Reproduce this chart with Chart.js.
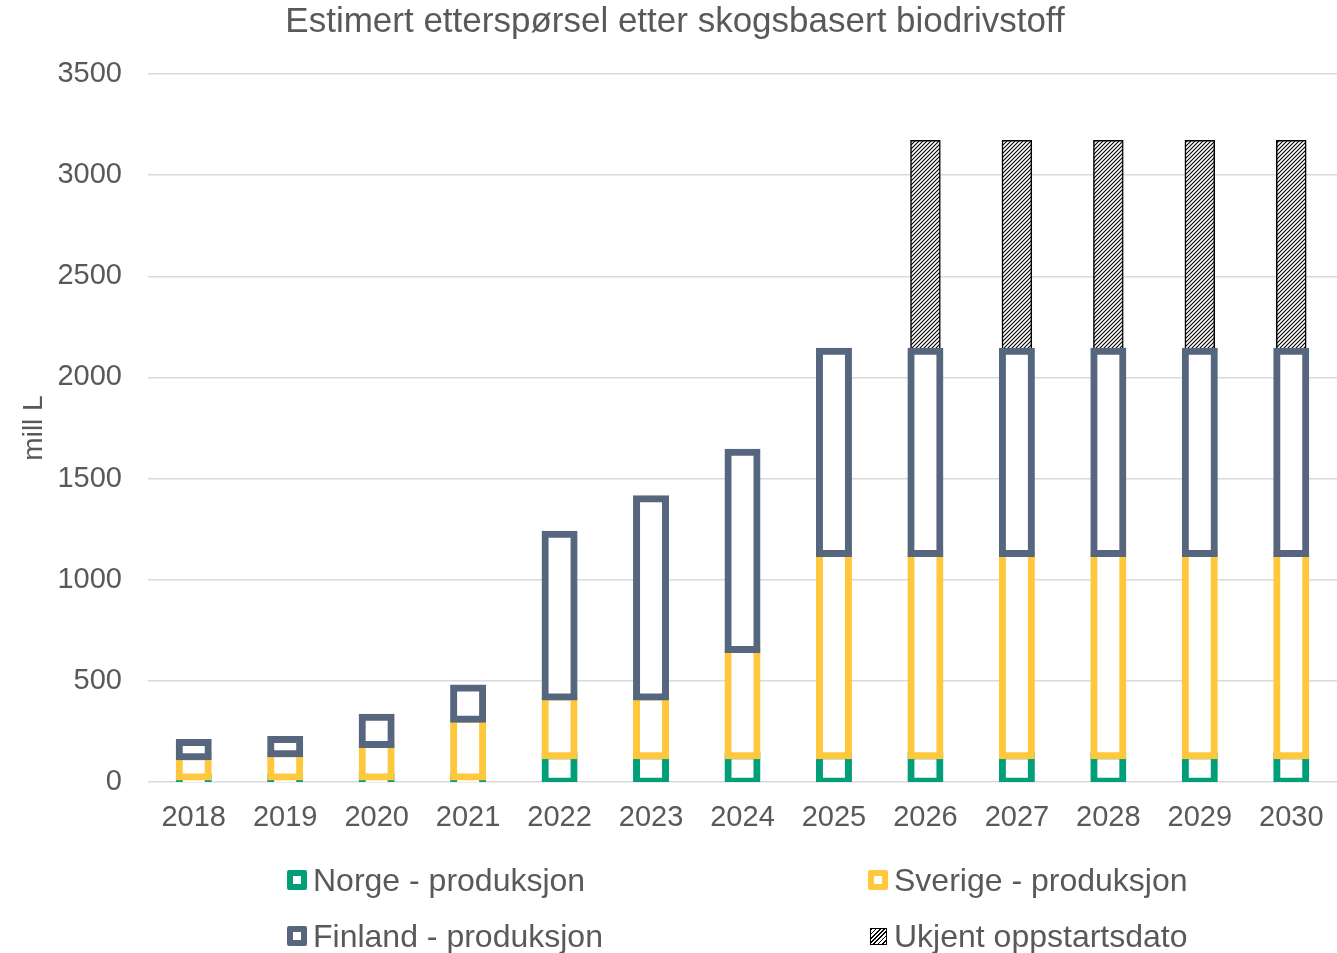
<!DOCTYPE html>
<html>
<head>
<meta charset="utf-8">
<script src="https://cdn.jsdelivr.net/npm/chart.js@4/dist/chart.umd.min.js"></script>
<style>
  html, body { margin: 0; padding: 0; background: #fff; }
  #wrap { position: relative; width: 1337px; height: 953px; }
  #legend { position: absolute; left: 0; top: 0; width: 1337px; height: 953px; pointer-events: none;
            font-family: "Liberation Sans", Arial, sans-serif; color: #595959; font-size: 32px; }
  .item { position: absolute; display: flex; align-items: center; height: 40px; white-space: nowrap; }
  .mk { box-sizing: border-box; width: 20px; height: 20px; border: 6px solid #000; border-radius: 2px; background: #fff; margin-right: 6px; }
  .mk.hatch { width: 17px; height: 17px; border: 1.5px solid #000; border-radius: 0; margin-right: 7px;
              background: repeating-linear-gradient(135deg, #000 0 1.2px, #fff 1.2px 3px); }
</style>
</head>
<body>
<div id="wrap">
  <canvas id="c" width="1337" height="953"></canvas>
  <div id="legend"></div>
</div>
<script>
// ---- data ----
const years   = ['2018','2019','2020','2021','2022','2023','2024','2025','2026','2027','2028','2029','2030'];
const norge   = [25, 25, 25, 25, 130, 130, 130, 130, 130, 130, 130, 130, 130];
const sverige = [100, 115, 160, 285, 290, 290, 525, 1000, 1000, 1000, 1000, 1000, 1000];
const finland = [70, 70, 135, 155, 805, 980, 975, 1000, 1000, 1000, 1000, 1000, 1000];
const ukjent  = [null, null, null, null, null, null, null, null, 1040, 1040, 1040, 1040, 1040];
const seriesNames = ['Norge - produksjon', 'Sverige - produksjon', 'Finland - produksjon', 'Ukjent oppstartsdato'];
const yTicks = [0, 500, 1000, 1500, 2000, 2500, 3000, 3500];
const titleText = 'Estimert etterspørsel etter skogsbasert biodrivstoff';
const yTitle = 'mill L';

// ---- styles ----
const colors = ['#009F7A', '#FFC83C', '#56667F'];
const textColor = '#595959';
const fontFam = '"Liberation Sans", Arial, sans-serif';

// hatch pattern
const pc = document.createElement('canvas');
pc.width = 4; pc.height = 4;
const pctx = pc.getContext('2d');
pctx.fillStyle = '#fff'; pctx.fillRect(0, 0, 4, 4);
pctx.strokeStyle = '#000'; pctx.lineWidth = 1.1;
pctx.beginPath();
pctx.moveTo(0, 4); pctx.lineTo(4, 0);
pctx.moveTo(-1, 1); pctx.lineTo(1, -1);
pctx.moveTo(3, 5); pctx.lineTo(5, 3);
pctx.stroke();
const hatch = pctx.createPattern(pc, 'repeat');

const clipOpt = { left: false, right: false, top: false, bottom: 0 };
function solidSet(label, data, color) {
  return {
    label, data,
    backgroundColor: '#ffffff',
    borderColor: color,
    borderWidth: 7,
    borderSkipped: false,
    inflateAmount: 3.5,
    barThickness: 29,
    clip: clipOpt
  };
}

const datasets = [
  solidSet(seriesNames[0], norge, colors[0]),
  solidSet(seriesNames[1], sverige, colors[1]),
  solidSet(seriesNames[2], finland, colors[2]),
  {
    label: seriesNames[3], data: ukjent,
    backgroundColor: hatch, borderColor: '#000000', borderWidth: 1.5,
    borderSkipped: false, inflateAmount: 0.75, barThickness: 29, clip: clipOpt
  }
];

// draw datasets so that later series sit on top, hatched one underneath
const drawOrderPlugin = {
  id: 'drawOrder',
  beforeDatasetsDraw(chart) {
    const metas = chart.getSortedVisibleDatasetMetas();
    const order = [3, 0, 1, 2];
    order.forEach(i => {
      const m = metas.find(mm => mm.index === i);
      if (m) chart._drawDataset(m);
    });
    return false;
  }
};

new Chart(document.getElementById('c'), {
  type: 'bar',
  data: { labels: years, datasets },
  plugins: [drawOrderPlugin],
  options: {
    responsive: false,
    animation: false,
    layout: { padding: { left: 13, right: 0, top: 0, bottom: 0 } },
    plugins: {
      legend: { display: false },
      tooltip: { enabled: false },
      title: {
        display: true, text: titleText, color: textColor,
        font: { family: fontFam, size: 35, weight: 'normal' },
        padding: { top: 1, bottom: 31 }
      }
    },
    scales: {
      x: {
        stacked: true,
        grid: { display: false, drawTicks: false },
        border: { display: false },
        ticks: { color: textColor, font: { family: fontFam, size: 29 }, padding: 19, maxRotation: 0, autoSkip: false },
        afterFit(scale) { scale.height = 171; scale.paddingLeft = 0; scale.paddingRight = 0; }
      },
      y: {
        stacked: true,
        min: 0, max: 3500,
        afterBuildTicks(scale) { scale.ticks = yTicks.map(v => ({ value: v })); },
        grid: { color: '#D9D9D9', lineWidth: 1.5, drawTicks: false },
        border: { display: false },
        ticks: { color: textColor, font: { family: fontFam, size: 29 }, padding: 26, callback: v => String(v) },
        title: { display: true, text: yTitle, color: textColor, font: { family: fontFam, size: 28 }, padding: { top: 4, bottom: 0 } },
        afterFit(scale) { scale.width = 135; }
      }
    }
  }
});

// ---- HTML legend ----
const legendPos = [
  { left: 287, cy: 880 }, { left: 868, cy: 880 },
  { left: 287, cy: 936 }, { left: 870, cy: 936 }
];
const lg = document.getElementById('legend');
seriesNames.forEach((name, i) => {
  const it = document.createElement('div');
  it.className = 'item';
  it.style.left = legendPos[i].left + 'px';
  it.style.top = (legendPos[i].cy - 20) + 'px';
  const mk = document.createElement('span');
  mk.className = 'mk' + (i === 3 ? ' hatch' : '');
  if (i < 3) mk.style.borderColor = colors[i];
  const tx = document.createElement('span');
  tx.textContent = name;
  it.appendChild(mk); it.appendChild(tx);
  lg.appendChild(it);
});
</script>
</body>
</html>
